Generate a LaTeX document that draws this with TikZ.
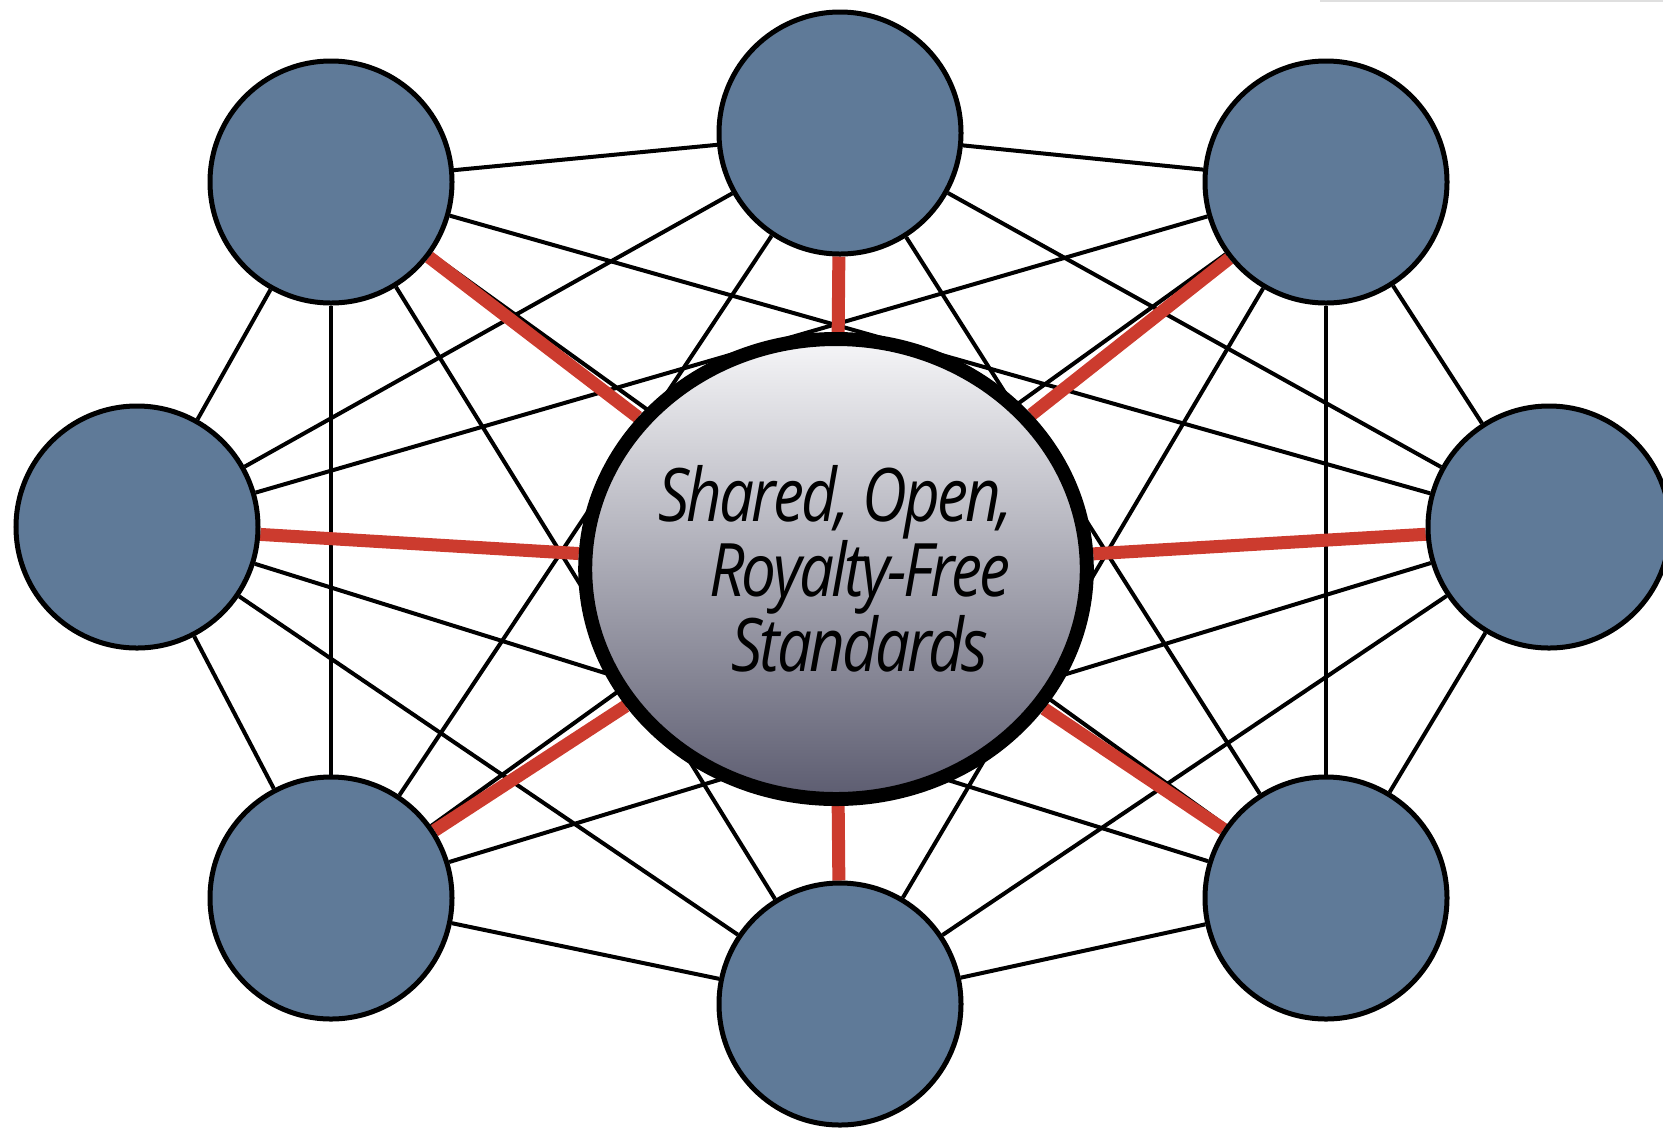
\documentclass[tikz,border=0pt]{standalone}
\usepackage{fontspec}
\usepackage{tikz}
\usetikzlibrary{shapes,backgrounds,positioning,calc}
\newfontfamily\hubfont[FakeStretch=0.84,LetterSpace=-4]{Open Sans}
\definecolor{slate}{RGB}{95,122,152}
\definecolor{tiered}{RGB}{204,59,46}
\definecolor{hubtop}{RGB}{246,246,248}
\definecolor{hubbot}{RGB}{92,92,112}
\tikzset{
	member/.style={
		circle,
		draw=black,
		line width=1mm,
		fill=slate,
		minimum size=48.4mm,
		inner sep=0pt,
	},
	hub/.style={
		ellipse,
		draw=black,
		line width=2.8mm,
		top color=hubtop,
		bottom color=hubbot,
		minimum width=100mm,
		minimum height=92mm,
		inner sep=0pt,
		align=center,
		font=\hubfont\itshape\fontsize{42}{42.7}\selectfont,
	},
	link/.style={
		draw=black,
		line width=0.8mm,
	},
	tie/.style={
		draw=tiered,
		line width=2.6mm,
	},
}

\begin{document}
\begin{tikzpicture}[x=0.2mm,y=-0.2mm]
		\useasboundingbox (0,0) rectangle (1663,1128);
		\draw[gray!25,line width=0.4mm] (1320,1) -- (1663,1);

		\node [member] (tl) at (331,182) {};
		\node [member] (tc) at (840,133) {};
		\node [member] (tr) at (1326,182) {};
		\node [member] (ml) at (137,527) {};
		\node [member] (mr) at (1549,527) {};
		\node [member] (bl) at (331,898) {};
		\node [member] (bc) at (840,1004) {};
		\node [member] (br) at (1326,898) {};
		\node [hub] (std) at (836,569) {Shared, Open,\\\hspace*{0.65em}Royalty-Free\\\hspace*{0.65em}Standards};

		\begin{pgfonlayer}{background}
			% members linked to one another
			\foreach \a/\rest in {tl/{tc,ml,mr,bl,bc,br},tc/{tr,ml,mr,bl,br},tr/{ml,mr,bl,bc,br},ml/{bl,bc,br},mr/{bl,bc,br},bl/{bc},bc/{br}}
				\foreach \b in \rest
					\path[link] (\a) -- (\b);
			% every member tied to the standards
			\foreach \a in {tl,tc,tr,ml,mr,bl,bc,br}
				\path[tie] (\a) -- (std);
		\end{pgfonlayer}
	\end{tikzpicture}
\end{document}
